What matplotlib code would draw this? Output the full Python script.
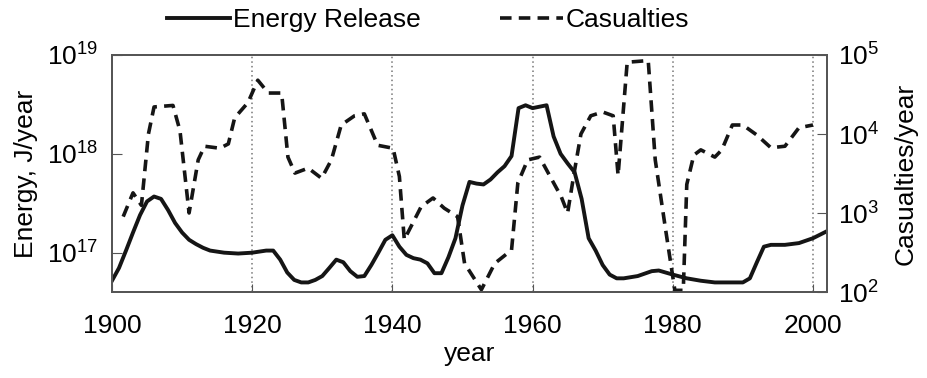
import matplotlib
matplotlib.use("Agg")
import matplotlib.pyplot as plt
from matplotlib.ticker import LogLocator, LogFormatterMathtext, NullLocator

plt.rcParams["font.family"] = ["Liberation Sans", "DejaVu Sans"]
plt.rcParams["mathtext.fontset"] = "custom"
plt.rcParams["mathtext.rm"] = "Liberation Sans"
plt.rcParams["mathtext.it"] = "Liberation Sans:italic"

# Energy release, J/year
energy_years = [1900, 1901, 1902, 1903, 1904, 1905, 1906, 1907, 1908, 1909,
                1910, 1911, 1912, 1913, 1914, 1916, 1918, 1920, 1922, 1923,
                1924, 1925, 1926, 1927, 1928, 1929, 1930, 1931, 1932, 1933,
                1934, 1935, 1936, 1937, 1938, 1939, 1940, 1941, 1942, 1943,
                1944, 1945, 1946, 1947, 1948, 1949, 1950, 1951, 1952, 1953,
                1954, 1955, 1956, 1957, 1958, 1959, 1960, 1961, 1962, 1963,
                1964, 1965, 1966, 1967, 1968, 1969, 1970, 1971, 1972, 1973,
                1975, 1977, 1978, 1980, 1982, 1984, 1986, 1988, 1990, 1991,
                1992, 1993, 1994, 1996, 1998, 2000, 2002]
energy = [5.2e16, 7.0e16, 1.05e17, 1.6e17, 2.4e17, 3.3e17, 3.7e17, 3.5e17, 2.7e17, 2.0e17,
          1.6e17, 1.35e17, 1.22e17, 1.12e17, 1.05e17, 1.0e17, 9.8e16, 1.0e17, 1.05e17, 1.05e17,
          8.5e16, 6.3e16, 5.3e16, 5.0e16, 5.0e16, 5.3e16, 5.8e16, 7.0e16, 8.5e16, 8.0e16,
          6.5e16, 5.7e16, 5.8e16, 7.5e16, 1.0e17, 1.35e17, 1.5e17, 1.15e17, 9.5e16, 8.8e16,
          8.5e16, 7.8e16, 6.2e16, 6.2e16, 9.0e16, 1.4e17, 3.0e17, 5.2e17, 5.0e17, 4.9e17,
          5.5e17, 6.5e17, 7.5e17, 9.5e17, 2.9e18, 3.1e18, 2.9e18, 3.0e18, 3.1e18, 1.5e18,
          1.0e18, 8.0e17, 6.5e17, 3.5e17, 1.4e17, 1.05e17, 7.5e16, 6.0e16, 5.5e16, 5.5e16,
          5.8e16, 6.5e16, 6.6e16, 6.0e16, 5.5e16, 5.2e16, 5.0e16, 5.0e16, 5.0e16, 5.5e16,
          8.0e16, 1.15e17, 1.2e17, 1.2e17, 1.25e17, 1.4e17, 1.65e17]

# Casualties per year
cas_years = [1901.6, 1903, 1904.2, 1905.2, 1906, 1908.7, 1909.7, 1911, 1912.3, 1913.2,
             1915.4, 1916.6, 1917.5, 1919.4, 1920.8, 1922.3, 1924.2, 1925.1, 1926.1, 1928,
             1929.9, 1931.3, 1932.7, 1934.6, 1936, 1937.9, 1940.1, 1941, 1941.7, 1944.1,
             1945.8, 1947.4, 1949.3, 1950.3, 1952.7, 1954.6, 1957, 1957.9, 1959.3, 1961,
             1962.9, 1964.1, 1965, 1966, 1966.9, 1968.3, 1970, 1971.5, 1972.2, 1973.5,
             1976.5, 1977.5, 1979, 1980.3, 1981.5, 1982, 1983, 1984, 1986, 1987,
             1988.5, 1990, 1992, 1994, 1996, 1998, 2000]
casualties = [900, 1800, 1250, 10000, 22000, 23000, 11000, 1000, 4700, 7000,
              6600, 7500, 16000, 25000, 48000, 33000, 33000, 5100, 3200, 3700,
              2750, 4700, 13000, 17000, 18000, 7200, 6600, 2900, 460, 1200,
              1550, 1150, 900, 230, 107, 230, 340, 2400, 4700, 5100,
              2500, 1600, 1000, 3500, 10000, 17000, 19000, 17000, 3000, 81000,
              85000, 4700, 600, 105, 105, 2300, 5400, 6300, 5100, 6300,
              13000, 13000, 9700, 6700, 7000, 12000, 13000]

grid_years = [1920, 1940, 1960, 1980, 2000]
x_ticks = [1900, 1920, 1940, 1960, 1980, 2000]

fig = plt.figure(figsize=(9.27, 3.78), dpi=100)
ax = fig.add_axes([0.1208, 0.2275, 0.7713, 0.627])
ax2 = ax.twinx()

for g in grid_years:
    ax.axvline(g, color="#777777", linestyle=(0, (1, 2)), linewidth=1.1, zorder=0)

l1, = ax.plot(energy_years, energy, color="#151515", linewidth=2.8,
              solid_joinstyle="round", label="Energy Release")
l2, = ax2.plot(cas_years, casualties, color="#151515", linewidth=2.6,
               linestyle=(0, (3.2, 2)), label="Casualties")

ax.set_xlim(1900, 2002)
ax.set_yscale("log")
ax.set_ylim(4.0e16, 1e19)
ax2.set_yscale("log")
ax2.set_ylim(1e2, 1e5)

for a in (ax, ax2):
    a.yaxis.set_major_locator(LogLocator(base=10))
    a.yaxis.set_major_formatter(LogFormatterMathtext())
    a.yaxis.set_minor_locator(NullLocator())
    for s in a.spines.values():
        s.set_color("#555555")
        s.set_linewidth(1.3)

ax.set_xticks(x_ticks)
ax.tick_params(axis="x", direction="in", length=6, color="#555555",
               labelsize=19, pad=16)
ax.tick_params(axis="y", direction="in", length=7, color="#555555",
               labelsize=19, pad=10)
ax2.tick_params(axis="y", direction="in", length=7, color="#555555",
                labelsize=19, pad=8)

ax.set_xlabel("year", fontsize=19, labelpad=3)
ax.set_ylabel("Energy, J/year", fontsize=19, labelpad=6)
ax2.set_ylabel("Casualties/year", fontsize=19, labelpad=10)

fig.legend(handles=[l1, l2], loc="center", bbox_to_anchor=(0.462, 0.947),
           ncol=2, frameon=False, fontsize=19, handlelength=2.4,
           handletextpad=0.1, columnspacing=3.0)

fig.savefig("out.png", dpi=100)
